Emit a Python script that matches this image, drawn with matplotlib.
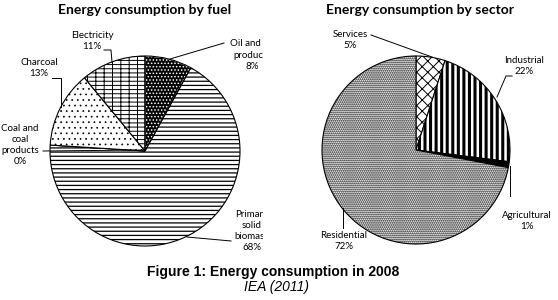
import matplotlib
matplotlib.use('Agg')
from matplotlib import pyplot as plt
from matplotlib.patches import Wedge
from matplotlib.transforms import Bbox, TransformedBbox

# data (IEA 2011)
fuel_labels = ['Oil and oil\nproducts', 'Primary\nsolid\nbiomass', 'Coal and\ncoal\nproducts', 'Charcoal', 'Electricity']
fuel_values = [8, 68, 0, 13, 11]
fuel_hatches = ['.....', '----', '', '...', '----||']

sector_labels = ['Services', 'Industrial', 'Agricultural', 'Residential']
sector_values = [5, 22, 1, 72]
sector_hatches = ['xxx', '|||', '', '........']

plt.rcParams['font.family'] = ['Lato', 'DejaVu Sans']
plt.rcParams['hatch.linewidth'] = 0.7

fig = plt.figure(figsize=(5.58, 3.0), dpi=100)
ax = fig.add_axes([0, 0, 1, 1])
ax.set_xlim(0, 558)
ax.set_ylim(300, 0)
ax.axis('off')


def draw_pie(values, hatches, center, radius, faces):
    wedges, _ = ax.pie(values, startangle=-90, counterclock=True, center=center, radius=radius,
                       colors=faces, wedgeprops=dict(edgecolor='black', linewidth=0.8))
    for w, h in zip(wedges, hatches):
        w.set_hatch(h)
    return wedges


def hatch_lw(w, lw):
    if hasattr(w, 'set_hatch_linewidth'):
        w.set_hatch_linewidth(lw)


left = draw_pie(fuel_values, fuel_hatches, (145, 151), 95, ['black', 'white', 'white', 'white', 'white'])
# white dots on the black oil slice
left[0].set_edgecolor('white')
ax.add_patch(Wedge((145, 151), 95, left[0].theta1, left[0].theta2, fill=False, edgecolor='black', linewidth=0.8))
hatch_lw(left[1], 0.9)
hatch_lw(left[3], 0.5)

right = draw_pie(sector_values, sector_hatches, (416, 150), 94, ['white', 'white', 'black', 'white'])
hatch_lw(right[1], 2.2)
hatch_lw(right[3], 0.9)

ax.set_xlim(0, 558)
ax.set_ylim(300, 0)
ax.set_aspect('auto')

# titles
ax.text(145, 10, 'Energy consumption by fuel', ha='center', va='center', fontsize=10, fontweight='bold')
ax.text(420, 10, 'Energy consumption by sector', ha='center', va='center', fontsize=10, fontweight='bold')

lab = dict(fontsize=7, ha='center', va='center', linespacing=1.3)
line = dict(color='black', linewidth=0.7)

# fuel labels (clipped at the chart area border like the original)
clip = TransformedBbox(Bbox([[0, 0], [263, 300]]), ax.transData)
t = ax.text(252, 55, fuel_labels[0] + '\n' + str(fuel_values[0]) + '%', **lab)
t.set_clip_box(clip)
t.set_clip_on(True)
t = ax.text(252, 231, fuel_labels[1] + '\n' + str(fuel_values[1]) + '%', **lab)
t.set_clip_box(clip)
t.set_clip_on(True)
ax.text(20, 145, fuel_labels[2] + '\n' + str(fuel_values[2]) + '%', **lab)
ax.text(39, 68, fuel_labels[3] + '\n' + str(fuel_values[3]) + '%', **lab)
ax.text(92, 41, fuel_labels[4] + '\n' + str(fuel_values[4]) + '%', **lab)

ax.plot([224, 170], [43, 59], **line)
ax.plot([187, 231], [237, 241], **line)
ax.plot([43, 143], [151, 150], **line)
ax.plot([52, 61, 61], [78, 78, 107], **line)
ax.plot([104, 111, 112], [50, 50, 62], **line)

# sector labels
ax.text(350, 40, sector_labels[0] + '\n' + str(sector_values[0]) + '%', **lab)
ax.text(524, 66, sector_labels[1] + '\n' + str(sector_values[1]) + '%', **lab)
ax.text(527, 221, sector_labels[2] + '\n' + str(sector_values[2]) + '%', **lab)
ax.text(344, 241, sector_labels[3] + '\n' + str(sector_values[3]) + '%', **lab)

ax.plot([371, 432], [35, 57], **line)
ax.plot([512, 506, 497], [76, 76, 97], **line)
ax.plot([510, 510], [166, 196], **line)
ax.plot([343, 343], [208, 228], **line)

# caption
ax.text(273, 272, 'Figure 1: Energy consumption in 2008', ha='center', va='center',
        fontsize=10, fontweight='bold', family=['Liberation Sans', 'DejaVu Sans'])
ax.text(277, 287, 'IEA (2011)', ha='center', va='center', fontsize=10, style='italic',
        family=['Liberation Sans', 'DejaVu Sans'])

fig.savefig('out.png', dpi=100)
